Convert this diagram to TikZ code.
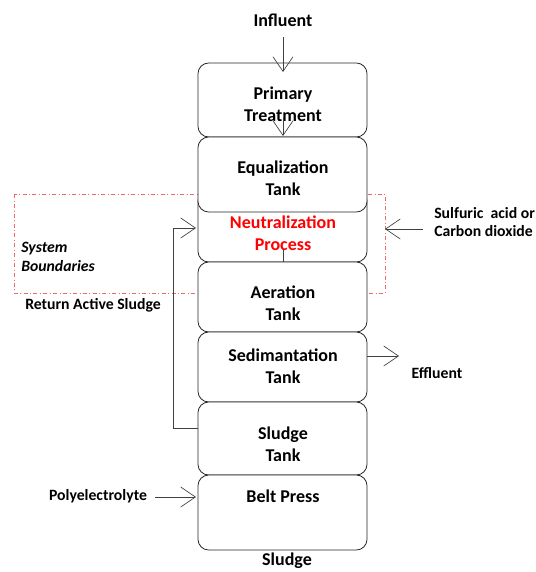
\documentclass[tikz,border=0pt]{standalone}
\usepackage{fontspec}
\setmainfont{Carlito}
\usetikzlibrary{arrows.meta}
\definecolor{bndred}{HTML}{F26A6A}
\begin{document}
\begin{tikzpicture}[x=0.75pt,y=-0.75pt,
  box/.style={draw=black!85, line width=0.6pt, rounded corners=8pt, fill=white},
  boxtxt/.style={font=\bfseries\fontsize{13.5}{16.5}\selectfont, align=center, inner sep=0pt},
  lbl/.style={font=\bfseries\fontsize{11.8}{13.5}\selectfont, align=left, inner sep=0pt},
  arr/.style={draw=black!75, line width=0.5pt, -{Straight Barb[length=11pt,width=15pt,line width=0.5pt]}},
  conn/.style={draw=black!75, line width=0.5pt}]
\useasboundingbox (0,0) rectangle (536,572);

% system boundary
\draw[bndred, dash dot, line width=0.7pt] (14,194) rectangle (385,293);

% boxes
\path[box] (198,63) rectangle (367,137);
\path[box] (198,190) rectangle (367,262);
\path[box] (198,137) rectangle (367,212);
\path[box] (198,262) rectangle (367,332);
\path[box] (198,332) rectangle (367,402);
\path[box] (198,402) rectangle (367,475);
\path[box] (198,475) rectangle (367,550);

\node[boxtxt] (b1) at (283,104) {Primary\\Treatment};
\node[boxtxt] (b2) at (283,178) {Equalization\\Tank};
\node[boxtxt, text=red] (b3) at (283,233) {Neutralization\\Process};
\node[boxtxt] (b4) at (283,303) {Aeration\\Tank};
\node[boxtxt] (b5) at (283,366) {Sedimantation\\Tank};
\node[boxtxt] (b6) at (283,444) {Sludge\\Tank};
\node[boxtxt] (b7) at (283,496) {Belt Press};

\node[boxtxt] (infl) at (283,20) {Influent};
\node[boxtxt] (sludge) at (287,561) {Sludge};

\node[lbl, anchor=west] (acid) at (434,222) {Sulfuric~ acid or\\Carbon dioxide};
\node[lbl] (eff) at (437,373) {Effluent};
\node[lbl] (poly) at (98,496) {Polyelectrolyte};
\node[lbl] (ras) at (93,305) {Return Active Sludge};
\node[lbl, anchor=west, font=\bfseries\itshape\fontsize{11.8}{14}\selectfont] (sysb) at (21,257) {System\\Boundaries};

% connector coordinates
\coordinate (inA) at (283,37);
\coordinate (inB) at (283,72);
\coordinate (p1A) at (283,118);
\coordinate (p1B) at (283,136);
\coordinate (n1A) at (283,250);
\coordinate (n1B) at (283,262);
\coordinate (sA) at (198,428);
\coordinate (sC) at (173,228);
\coordinate (sB) at (196,228);
\coordinate (acA) at (423,229);
\coordinate (acB) at (385,229);
\coordinate (efA) at (367,356);
\coordinate (efB) at (399,356);
\coordinate (poA) at (155,497);
\coordinate (poB) at (196,497);

\draw[arr] (inA) -- (inB);
\draw[arr] (p1A) -- (p1B);
\draw[conn] (n1A) -- (n1B);
\draw[arr] (sA) -| (sC) -- (sB);
\draw[arr] (acA) -- (acB);
\draw[arr] (efA) -- (efB);
\draw[arr] (poA) -- (poB);
\end{tikzpicture}
\end{document}
